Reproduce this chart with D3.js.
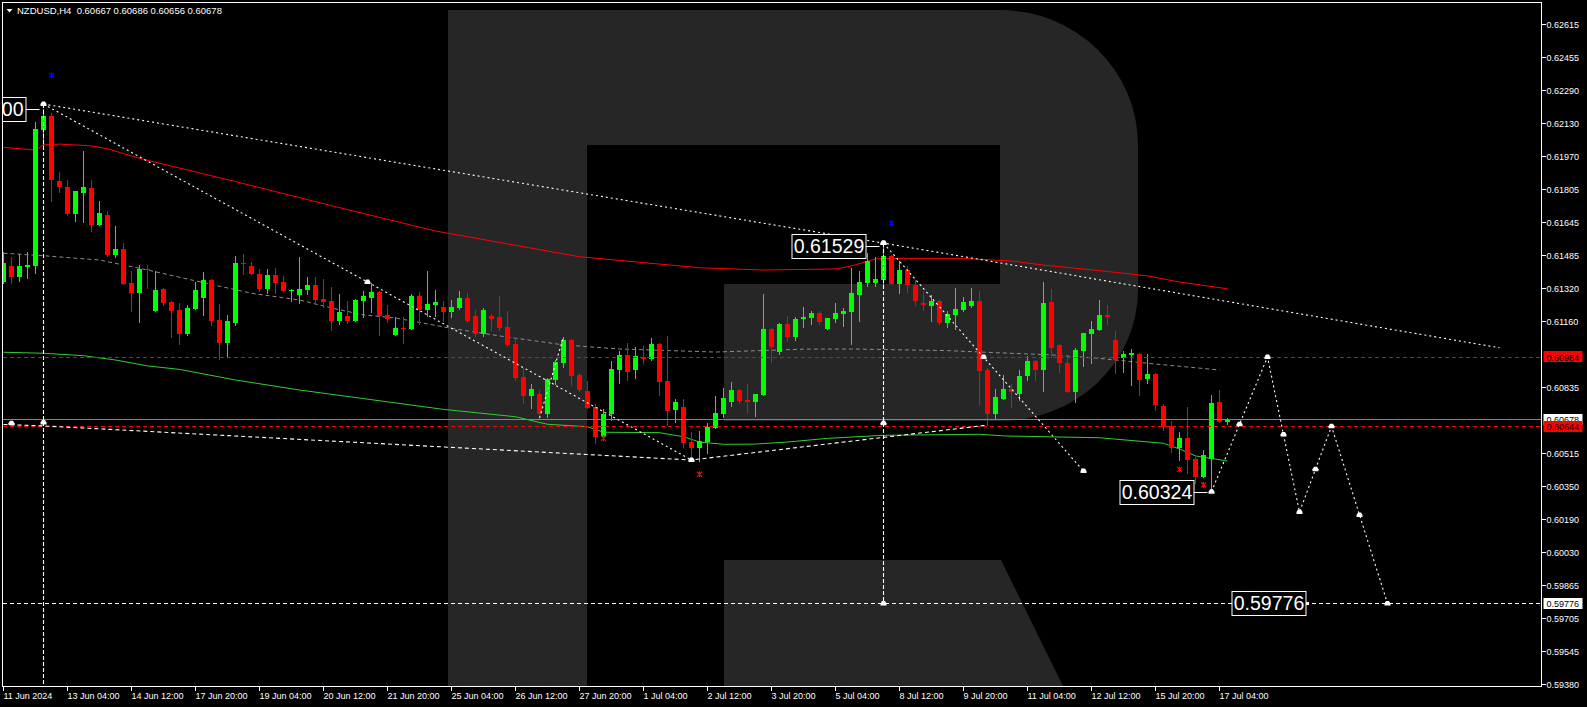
<!DOCTYPE html>
<html><head><meta charset="utf-8">
<script src="https://cdn.jsdelivr.net/npm/d3@7"></script>
<style>
html,body{margin:0;padding:0;background:#000;overflow:hidden;}
svg{display:block;}
text{font-family:"Liberation Sans",Arial,sans-serif;}
</style></head><body>
<svg id="c" width="1587" height="707"></svg>
<script>
// ---------------- DATA ----------------
const headerText = "NZDUSD,H4  0.60667 0.60686 0.60656 0.60678";

const opens = [
0.61353,0.61430,0.61376,0.61426,0.61431,0.62096,0.62165,0.61848,0.61819,0.61684,
0.61789,0.61812,0.61631,0.61680,0.61484,0.61513,0.61346,0.61299,0.61415,0.61209,
0.61317,0.61253,0.61214,0.61098,0.61220,0.61274,0.61361,0.61167,0.61054,0.61148,
0.61446,0.61430,0.61390,0.61317,0.61386,0.61351,0.61307,0.61288,0.61312,0.61336,
0.61268,0.61258,0.61162,0.61185,0.61162,0.61258,0.61273,0.61302,0.61190,0.61093,
0.61127,0.61122,0.61283,0.61215,0.61240,0.61229,0.61206,0.61224,0.61273,0.61185,
0.61096,0.61185,0.61180,0.61131,0.61047,0.60887,0.60794,0.60804,0.60706,0.60872,
0.60956,0.61068,0.60897,0.60818,0.60739,0.60593,0.60706,0.60918,0.60995,0.60921,
0.60985,0.60975,0.61049,0.60868,0.60726,0.60740,0.60569,0.60539,0.60569,0.60637,
0.60706,0.60765,0.60824,0.60775,0.60765,0.60799,0.61122,0.61010,0.61147,0.61080,
0.61171,0.61176,0.61201,0.61122,0.61170,0.61194,0.61204,0.61288,0.61346,0.61346,
0.61361,0.61479,0.61341,0.61410,0.61336,0.61248,0.61234,0.61258,0.61150,0.61190,
0.61214,0.61234,0.61258,0.60920,0.60704,0.60780,0.60827,0.60802,0.60891,0.60964,
0.60920,0.61253,0.61043,0.60954,0.60812,0.61013,0.61096,0.61116,0.61190,0.61067,
0.60979,0.60994,0.60999,0.60876,0.60900,0.60744,0.60645,0.60538,0.60587,0.60484,
0.60396,0.60482,0.60763,0.60667];
const highs = [
0.61500,0.61475,0.61488,0.61497,0.62134,0.62200,0.62178,0.61890,0.61851,0.61797,
0.61993,0.61851,0.61748,0.61699,0.61626,0.61542,0.61405,0.61435,0.61435,0.61405,
0.61322,0.61258,0.61248,0.61238,0.61351,0.61400,0.61366,0.61243,0.61190,0.61479,
0.61488,0.61450,0.61415,0.61415,0.61420,0.61381,0.61317,0.61475,0.61376,0.61376,
0.61366,0.61327,0.61292,0.61258,0.61268,0.61307,0.61346,0.61307,0.61238,0.61180,
0.61181,0.61292,0.61302,0.61405,0.61312,0.61258,0.61263,0.61307,0.61297,0.61214,
0.61224,0.61194,0.61283,0.61209,0.61077,0.60931,0.60853,0.60824,0.60882,0.60970,
0.61083,0.61073,0.60907,0.60865,0.60753,0.60730,0.60966,0.61015,0.61054,0.61034,
0.61038,0.61078,0.61052,0.61088,0.60779,0.60779,0.60618,0.60623,0.60662,0.60794,
0.60833,0.60863,0.60828,0.60853,0.60804,0.61294,0.61125,0.61152,0.61186,0.61181,
0.61230,0.61209,0.61209,0.61176,0.61248,0.61224,0.61420,0.61405,0.61493,0.61474,
0.61529,0.61484,0.61454,0.61430,0.61361,0.61302,0.61288,0.61263,0.61209,0.61322,
0.61278,0.61322,0.61307,0.60930,0.60827,0.60896,0.60851,0.60920,0.60989,0.60969,
0.61351,0.61317,0.61046,0.60984,0.61030,0.61101,0.61160,0.61263,0.61238,0.61111,
0.61013,0.61023,0.61003,0.60999,0.60903,0.60753,0.60670,0.60617,0.60739,0.60494,
0.60528,0.60798,0.60822,0.60686];
const lows = [
0.61348,0.61348,0.61358,0.61372,0.61397,0.62023,0.61750,0.61792,0.61680,0.61652,
0.61647,0.61603,0.61631,0.61479,0.61475,0.61341,0.61209,0.61157,0.61320,0.61209,
0.61240,0.61083,0.61049,0.61093,0.61220,0.61191,0.61139,0.60975,0.60985,0.61140,
0.61390,0.61392,0.61307,0.61297,0.61297,0.61307,0.61260,0.61250,0.61292,0.61253,
0.61227,0.61118,0.61147,0.61152,0.61162,0.61181,0.61206,0.61093,0.61157,0.61093,
0.61050,0.61122,0.61147,0.61186,0.61186,0.61162,0.61181,0.61219,0.61155,0.61086,
0.61086,0.61116,0.61116,0.61038,0.60872,0.60760,0.60735,0.60681,0.60691,0.60853,
0.60936,0.60848,0.60818,0.60735,0.60564,0.60593,0.60677,0.60858,0.60872,0.60882,
0.60956,0.60970,0.60799,0.60652,0.60667,0.60544,0.60476,0.60476,0.60515,0.60637,
0.60691,0.60745,0.60760,0.60711,0.60696,0.60799,0.60961,0.61000,0.61063,0.61068,
0.61132,0.61147,0.61147,0.61122,0.61155,0.61136,0.61047,0.61160,0.61332,0.61332,
0.61341,0.61341,0.61297,0.61302,0.61239,0.61214,0.61160,0.61145,0.61131,0.61121,
0.61209,0.61229,0.60748,0.60650,0.60684,0.60780,0.60740,0.60773,0.60871,0.60871,
0.60817,0.60984,0.60910,0.60812,0.60763,0.60940,0.60954,0.61116,0.61145,0.60905,
0.60910,0.60848,0.60798,0.60856,0.60724,0.60626,0.60518,0.60479,0.60416,0.60366,
0.60396,0.60324,0.60665,0.60656];
const closes = [
0.61446,0.61374,0.61430,0.61436,0.62101,0.62165,0.61851,0.61818,0.61684,0.61797,
0.61817,0.61631,0.61689,0.61484,0.61513,0.61341,0.61299,0.61415,0.61410,0.61312,
0.61250,0.61209,0.61098,0.61224,0.61312,0.61361,0.61162,0.61054,0.61160,0.61446,
0.61441,0.61392,0.61317,0.61386,0.61346,0.61307,0.61314,0.61317,0.61336,0.61263,
0.61253,0.61162,0.61204,0.61162,0.61263,0.61283,0.61302,0.61186,0.61171,0.61127,
0.61122,0.61283,0.61215,0.61243,0.61253,0.61206,0.61229,0.61273,0.61160,0.61096,
0.61214,0.61170,0.61126,0.61043,0.60882,0.60794,0.60828,0.60706,0.60877,0.60961,
0.61068,0.60892,0.60823,0.60735,0.60593,0.60706,0.60926,0.60995,0.60912,0.60989,
0.60975,0.61049,0.60863,0.60721,0.60765,0.60564,0.60539,0.60574,0.60642,0.60711,
0.60784,0.60824,0.60770,0.60765,0.60804,0.61122,0.61034,0.61147,0.61083,0.61171,
0.61181,0.61201,0.61157,0.61176,0.61199,0.61209,0.61297,0.61351,0.61454,0.61366,
0.61479,0.61341,0.61410,0.61336,0.61258,0.61238,0.61258,0.61150,0.61194,0.61219,
0.61253,0.61258,0.60915,0.60704,0.60789,0.60827,0.60813,0.60891,0.60964,0.60920,
0.61248,0.61030,0.60954,0.60812,0.61018,0.61101,0.61121,0.61190,0.61180,0.60969,
0.60999,0.61003,0.60871,0.60900,0.60748,0.60640,0.60538,0.60587,0.60479,0.60396,
0.60504,0.60758,0.60667,0.60678];

// time labels, one every 8 H4 bars
const timeLabels = ["11 Jun 2024","13 Jun 04:00","14 Jun 12:00","17 Jun 20:00","19 Jun 04:00",
  "20 Jun 12:00","21 Jun 20:00","25 Jun 04:00","26 Jun 12:00","27 Jun 20:00","1 Jul 04:00",
  "2 Jul 12:00","3 Jul 20:00","5 Jul 04:00","8 Jul 12:00","9 Jul 20:00","11 Jul 04:00",
  "12 Jul 12:00","15 Jul 20:00","17 Jul 04:00"];
const barsPerLabel = 8;

const priceTicks = [0.62615,0.62455,0.62290,0.62130,0.61970,0.61805,0.61645,0.61485,0.61320,
  0.61160,0.60835,0.60515,0.60350,0.60190,0.60030,0.59865,0.59705,0.59545,0.59380];

// moving averages [bar, price]
const maRed = [[0,0.62011],[4,0.61998],[5,0.62023],[7,0.62027],[11,0.62018],[13,0.62004],[17,0.61957],
  [29,0.61843],[41,0.61725],[54,0.61601],[72,0.61475],[87,0.61421],[95,0.61410],[104,0.61415],
  [106,0.61430],[109,0.61464],[111,0.61467],[120,0.61467],[126,0.61454],[130,0.61434],[137,0.61407],
  [143,0.61381],[147,0.61351],[153,0.61318]];
const maGreen = [[0,0.61007],[5,0.61002],[10,0.60990],[14,0.60969],[18,0.60940],[22,0.60923],[29,0.60871],
  [37,0.60822],[41,0.60801],[55,0.60727],[64,0.60691],[68,0.60654],[73,0.60642],[75,0.60615],[82,0.60613],
  [85,0.60593],[87,0.60567],[90,0.60556],[94,0.60557],[98,0.60567],[103,0.60585],[110,0.60600],
  [122,0.60605],[125,0.60597],[137,0.60588],[145,0.60561],[147,0.60533],[149,0.60499],[153,0.60474]];
const maGray = [[0,0.61492],[5,0.61480],[12,0.61459],[18,0.61410],[25,0.61348],[31,0.61296],[37,0.61263],
  [41,0.61224],[45,0.61190],[49,0.61175],[56,0.61124],[62,0.61087],[70,0.61043],[77,0.61023],[89,0.61008],
  [100,0.61022],[106,0.61023],[118,0.61015],[124,0.61005],[131,0.60994],[137,0.60977],[143,0.60953],[152,0.60920]];

// analysis lines [bar, price]
const trendUpper = [[5,0.62223],[110,0.61542],[187,0.61029]];
const trendB = [[5,0.62223],[86,0.60479]];
const trendB2 = [[67,0.60685],[70,0.61082]];
const trendLower = [[0,0.60653],[5,0.60646],[86,0.60479],[123,0.60650]];
const trendD = [[110,0.61542],[135,0.60425]];
const vert1 = [[5,0.62223],[5,0.59102]];
const vert2 = [[110,0.61542],[110,0.59776]];
const forecast = [[151,0.60324],[158,0.60984],[162,0.60224],[166,0.60644],[173,0.59776]];
const extraMarks = [[1,0.60659]];

const redFractals = [[75,0.60585],[87,0.60409],[147,0.60433],[150,0.60357]];
const blueFractals = [[6,0.62364],[111,0.61639]];

const priceBoxes = [{bar:5,price:0.62200,text:"0.62200"},{bar:110,price:0.61529,text:"0.61529"},
  {bar:151,price:0.60324,text:"0.60324"}];
const levelBoxes = [{bar:163,price:0.59776,text:"0.59776"}];

const hLines = [
  {price:0.60984,color:"#ff0000",dash:"4,3",label:"0.60984",lfill:"#ff0000"},
  {price:0.60678,color:"#778899",dash:null,label:"0.60678",lfill:"#ffffff"},
  {price:0.60644,color:"#ff0000",dash:"4,3",label:"0.60644",lfill:"#ff0000"},
  {price:0.59776,color:"#ffffff",dash:"4,3",label:"0.59776",lfill:"#ffffff"}];

// ---------------- DRAW ----------------
const W=1587,H=707, L=2.5, T=2.5, R=1541.5, B=686.5;
const svg = d3.select("#c");
svg.append("rect").attr("width",W).attr("height",H).attr("fill","#000");

const xs = d3.scaleLinear().domain([0,192]).range([3.5,3.5+8*192]);
const ys = d3.scaleLinear().domain([0.593716,0.627232]).range([686,2]);

svg.append("clipPath").attr("id","plot").append("rect")
  .attr("x",L+0.5).attr("y",T+0.5).attr("width",R-L-1).attr("height",B-T-1);
const g = svg.append("g").attr("clip-path","url(#plot)");

// watermark logo
const wm = g.append("g").attr("fill","#262626");
wm.append("path").attr("d","M448,10 H587 V690 H448 Z");
wm.append("path").attr("d","M587,10 H1000 A138,135 0 0 1 1138,145 V290 A138,131 0 0 1 1000,421 H724 V284 H1000 V145 H587 Z");
wm.append("path").attr("d","M724,560 H1001 L1065,690 H724 Z");

const line = d3.line().x(d=>xs(d[0])).y(d=>ys(d[1]));

// indicators
g.append("path").attr("d",line(maRed)).attr("fill","none").attr("stroke","#ff0000").attr("stroke-width",1);
g.append("path").attr("d",line(maGreen)).attr("fill","none").attr("stroke","#32cd32").attr("stroke-width",1);
g.append("path").attr("d",line(maGray)).attr("fill","none").attr("stroke","#8c8c8c").attr("stroke-width",1).attr("stroke-dasharray","4,3");

// candles
const candles = opens.map((o,i)=>({i,o,h:highs[i],l:lows[i],c:closes[i]}));
const cg = g.append("g").attr("shape-rendering","crispEdges");
cg.selectAll("line.w").data(candles).join("line")
  .attr("x1",d=>xs(d.i)).attr("x2",d=>xs(d.i))
  .attr("y1",d=>Math.round(ys(d.h))).attr("y2",d=>Math.round(ys(d.l))+1)
  .attr("stroke",d=>d.c>=d.o?"#00ff00":"#ff0000");
cg.selectAll("rect.b").data(candles).join("rect")
  .attr("x",d=>xs(d.i)-2.5).attr("width",5)
  .attr("y",d=>Math.round(ys(Math.max(d.o,d.c))))
  .attr("height",d=>Math.max(1,Math.round(ys(Math.min(d.o,d.c)))-Math.round(ys(Math.max(d.o,d.c)))))
  .attr("fill",d=>d.c>=d.o?"#00ff00":"#ff0000");

// horizontal level lines
hLines.forEach(h=>{
  const y = Math.round(ys(h.price))+0.5;
  const ln = g.append("line").attr("x1",L).attr("x2",R).attr("y1",y).attr("y2",y)
    .attr("stroke",h.color).attr("stroke-width",1).attr("shape-rendering","crispEdges");
  if(h.dash) ln.attr("stroke-dasharray",h.dash);
});

// analysis lines
function dl(pts,dash){
  g.append("path").attr("d",line(pts)).attr("fill","none").attr("stroke","#fff")
   .attr("stroke-width",1.1).attr("stroke-dasharray",dash);
}
dl(trendUpper,"2,3"); dl(trendB,"2,3"); dl(trendB2,"2,3"); dl(trendLower,"4,3");
dl(trendD,"2,3"); dl(forecast,"2,3"); dl(vert1,"4,2"); dl(vert2,"4,2");

// white markers: endpoints and midpoints of segments
const markPts = [];
function addMarks(pts){
  pts.forEach(p=>markPts.push(p));
  for(let k=0;k<pts.length-1;k++) markPts.push([(pts[k][0]+pts[k+1][0])/2,(pts[k][1]+pts[k+1][1])/2]);
}
addMarks(trendB); addMarks(trendD); addMarks(forecast); addMarks(vert2);
markPts.push([vert1[0][0],(vert1[0][1]+vert1[1][1])/2]);
extraMarks.forEach(p=>markPts.push(p));
g.selectAll("path.mk").data(markPts).join("path")
  .attr("transform",d=>`translate(${xs(d[0])},${ys(d[1])})`)
  .attr("d","M-3,2 V0 L-1.5,-2.5 H1.5 L3,0 V2 Z").attr("fill","#fff");

// fractal marks
function frac(arr,col){
  g.selectAll(null).data(arr).join("path")
   .attr("transform",d=>`translate(${xs(d[0])},${ys(d[1])})`)
   .attr("d","M-2.5,-2.5 L2.5,2.5 M2.5,-2.5 L-2.5,2.5 M0,-3 V3").attr("stroke",col).attr("stroke-width",1.2).attr("fill","none");
}
frac(redFractals,"#ff0000"); frac(blueFractals,"#0000ff");

// price label boxes
priceBoxes.forEach(p=>{
  const xm = xs(p.bar), y = ys(p.price);
  const bw=74, bh=24, xr = xm-18;
  g.append("line").attr("x1",xr).attr("x2",xm-4).attr("y1",Math.round(y)+0.5).attr("y2",Math.round(y)+0.5).attr("stroke","#fff");
  g.append("rect").attr("x",xr-bw+0.5).attr("y",Math.round(y-bh/2)+0.5).attr("width",bw).attr("height",bh)
    .attr("fill","#000").attr("stroke","#fff").attr("stroke-width",1);
  // when the box runs past the left frame, only its visible tail is written
  const cut = xr-bw < L;
  g.append("text").attr("x",cut ? xr-2 : xr-bw/2+0.5).attr("y",y+7)
    .attr("text-anchor",cut ? "end" : "middle")
    .attr("fill","#fff").attr("font-size","19.5px").text(cut ? p.text.slice(-2) : p.text);
});
levelBoxes.forEach(p=>{
  const xm = xs(p.bar), y = ys(p.price);
  const bw=74, bh=24, xr = xm-2;
  g.append("rect").attr("x",xr-bw+0.5).attr("y",Math.round(y-bh/2)+0.5).attr("width",bw).attr("height",bh)
    .attr("fill","#000").attr("stroke","#fff").attr("stroke-width",1);
  g.append("text").attr("x",xr-bw/2+0.5).attr("y",y+7).attr("text-anchor","middle")
    .attr("fill","#fff").attr("font-size","19.5px").text(p.text);
  g.append("rect").attr("x",xm-1.5).attr("y",y-1.5).attr("width",3).attr("height",3).attr("fill","#fff");
});

// frame
svg.append("rect").attr("x",L).attr("y",T).attr("width",R-L).attr("height",B-T)
  .attr("fill","none").attr("stroke","#fff").attr("stroke-width",1).attr("shape-rendering","crispEdges");

// right price axis
const ax = svg.append("g").attr("shape-rendering","crispEdges");
priceTicks.forEach(p=>{
  const y = Math.min(Math.round(ys(p)), 685);
  ax.append("line").attr("x1",R).attr("x2",R+4).attr("y1",y+0.5).attr("y2",y+0.5).attr("stroke","#fff");
  svg.append("text").attr("x",R+5).attr("y",y+3.5).attr("fill","#fff").attr("font-size","9px").text(p.toFixed(5));
});
hLines.forEach(h=>{
  const y = ys(h.price);
  svg.append("rect").attr("x",R+2).attr("y",Math.round(y-5.5)).attr("width",39).attr("height",11).attr("fill",h.lfill);
  svg.append("text").attr("x",R+5).attr("y",Math.round(y)+3.5).attr("fill","#000").attr("font-size","9px").text(h.label);
});

// time axis
timeLabels.forEach((t,k)=>{
  const x = xs(k*barsPerLabel);
  ax.append("line").attr("x1",x).attr("x2",x).attr("y1",B).attr("y2",B+4).attr("stroke","#fff");
  svg.append("text").attr("x",x).attr("y",699).attr("fill","#fff").attr("font-size","9px").text(t);
});

// header
svg.append("path").attr("d","M6.5,9 H12.5 L9.5,12.5 Z").attr("fill","#fff");
svg.append("text").attr("x",17).attr("y",14).attr("fill","#fff").attr("font-size","9.5px")
  .attr("xml:space","preserve").style("white-space","pre").text(headerText);
</script>
</body></html>
